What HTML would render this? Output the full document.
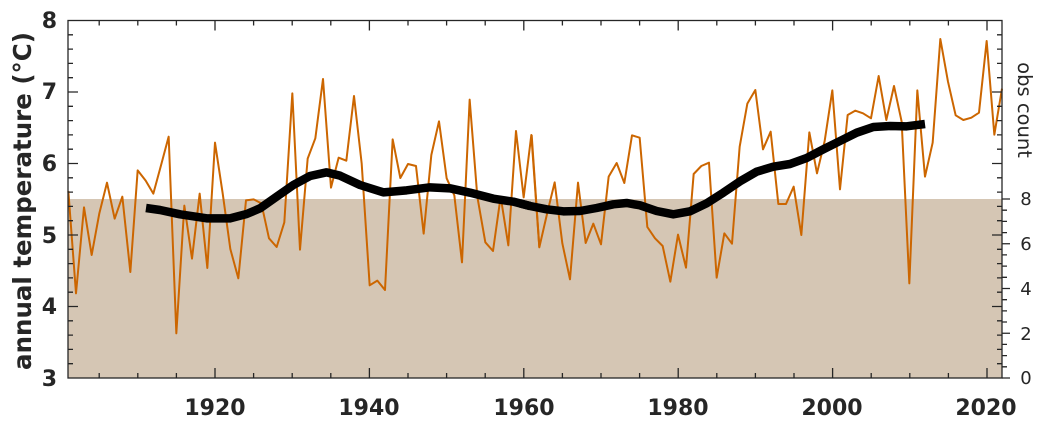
<!DOCTYPE html>
<html><head><meta charset="utf-8"><style>
html,body{margin:0;padding:0;background:#fff;width:1044px;height:424px;overflow:hidden}
svg{display:block}
text{font-family:"DejaVu Sans","Liberation Sans",sans-serif;fill:#262626}
</style></head><body>
<svg width="1044" height="424" viewBox="0 0 1044 424">
<rect x="68" y="199" width="934" height="179" fill="#d5c6b4"/>
<g fill="none" stroke="#cc6600" stroke-width="2" stroke-linejoin="round">
<g transform="translate(60,10) scale(0.33333)">
<polyline vector-effect="non-scaling-stroke" points="25,543 48,850 72,592 95,735 118,610 141,518 164,626 187,560 211,786 233,481 257,512 280,551 303,466 326,380 349,970 373,587 396,746 419,551 442,774 465,398 488,550 511,717 535,805 558,571 581,568 604,580 627,685 650,711 673,637 697,250 720,719 743,446 766,385 789,207 813,533 836,443 859,452 882,258 905,460 929,826 952,812 975,840 998,388 1021,504 1044,462 1068,468 1091,671 1114,435 1137,334 1160,505 1183,556 1206,757 1229,269 1252,560 1276,697 1299,723 1322,560 1345,706 1368,363 1391,562 1414,375 1438,712"/>
</g>
<g transform="translate(530,10) scale(0.33333)">
<polyline vector-effect="non-scaling-stroke" points="5,375 28,712 51,612 74,517 97,700 120,808 144,518 167,699 190,641 213,703 236,500 260,459 283,519 306,376 329,383 352,651 375,685 398,708 421,815 444,674 468,773 491,492 514,468 537,458 560,803 583,670 606,701 629,410 652,281 676,240 699,418 722,365 745,582 768,582 791,530 814,675 838,367 861,490 884,393 907,241 930,538 953,315 976,302 999,310 1023,325 1046,198 1069,330 1092,228 1115,335 1138,820 1162,241 1185,500 1208,398 1231,87 1254,215 1277,316 1300,330 1324,323 1347,308 1370,93 1393,374 1416,236"/>
</g>
</g>
<g fill="none" stroke="#000" stroke-width="8.5" stroke-linejoin="round">
<g transform="translate(60,10) scale(0.33333)">
<polyline vector-effect="non-scaling-stroke" points="258,594 300,600 360,613 440,625 510,625 560,612 600,595 650,560 700,525 750,498 800,487 840,497 900,525 970,547 1040,541 1110,532 1170,535 1230,548 1300,566 1360,575 1410,588"/>
</g>
<g transform="translate(530,10) scale(0.33333)">
<polyline vector-effect="non-scaling-stroke" points="-30,580 0,588 50,598 100,604 150,603 200,594 250,583 290,579 330,586 380,603 430,613 480,604 530,580 580,548 630,514 680,485 730,470 780,462 830,444 880,418 930,393 980,368 1030,351 1080,348 1130,349 1185,342"/>
</g>
</g>
<g stroke="#262626" stroke-width="1.3" fill="none">
<rect x="68" y="20.5" width="934" height="357.5"/>
<path d="M68 363.7h5M68 349.4h5M68 335.1h5M68 320.8h5M68 306.5h10M68 292.2h5M68 277.9h5M68 263.6h5M68 249.3h5M68 235h10M68 220.7h5M68 206.4h5M68 192.1h5M68 177.8h5M68 163.5h10M68 149.2h5M68 134.9h5M68 120.6h5M68 106.3h5M68 92h10M68 77.7h5M68 63.4h5M68 49.1h5M68 34.8h5"/>
<path d="M1002 363.7h-5M1002 349.4h-5M1002 335.1h-5M1002 320.8h-5M1002 306.5h-10M1002 292.2h-5M1002 277.9h-5M1002 263.6h-5M1002 249.3h-5M1002 235h-10M1002 220.7h-5M1002 206.4h-5M1002 192.1h-5M1002 177.8h-5M1002 163.5h-10M1002 149.2h-5M1002 134.9h-5M1002 120.6h-5M1002 106.3h-5M1002 92h-10M1002 77.7h-5M1002 63.4h-5M1002 49.1h-5M1002 34.8h-5"/>
<path d="M1002 378h8M1002 366.8h5M1002 355.6h5M1002 344.4h5M1002 333.25h8M1002 322h5M1002 310.9h5M1002 299.7h5M1002 288.5h8M1002 277.3h5M1002 266.1h5M1002 254.9h5M1002 243.75h8M1002 232.6h5M1002 221.4h5M1002 210.2h5M1002 199h8"/>
<path d="M99.2 378v-5M137.8 378v-5M176.4 378v-5M215 378v-10M253.6 378v-5M292.2 378v-5M330.8 378v-5M369.4 378v-10M408 378v-5M446.6 378v-5M485.2 378v-5M523.8 378v-10M562.4 378v-5M601 378v-5M639.6 378v-5M678.2 378v-10M716.8 378v-5M755.4 378v-5M794 378v-5M832.6 378v-10M871.2 378v-5M909.8 378v-5M948.4 378v-5M987 378v-10"/>
<path d="M99.2 20.5v5M137.8 20.5v5M176.4 20.5v5M215 20.5v10M253.6 20.5v5M292.2 20.5v5M330.8 20.5v5M369.4 20.5v10M408 20.5v5M446.6 20.5v5M485.2 20.5v5M523.8 20.5v10M562.4 20.5v5M601 20.5v5M639.6 20.5v5M678.2 20.5v10M716.8 20.5v5M755.4 20.5v5M794 20.5v5M832.6 20.5v10M871.2 20.5v5M909.8 20.5v5M948.4 20.5v5M987 20.5v10"/>
</g>
<g font-weight="bold" font-size="22" text-anchor="end">
<text x="57" y="386">3</text><text x="57" y="314">4</text><text x="57" y="243">5</text><text x="57" y="171">6</text><text x="57" y="99">7</text><text x="57" y="28">8</text>
</g>
<g font-weight="bold" font-size="22" text-anchor="middle">
<text x="215" y="415">1920</text><text x="369" y="415">1940</text><text x="524" y="415">1960</text><text x="678" y="415">1980</text><text x="832" y="415">2000</text><text x="986" y="415">2020</text>
</g>
<g font-size="18" text-anchor="middle">
<text x="1026" y="384">0</text><text x="1026" y="340">2</text><text x="1026" y="295">4</text><text x="1026" y="250">6</text><text x="1026" y="205">8</text>
</g>
<text transform="translate(31,201) rotate(-90)" font-weight="bold" font-size="24.5" text-anchor="middle">annual temperature (°C)</text>
<text transform="translate(1018,110) rotate(90)" font-size="19.5" text-anchor="middle">obs count</text>
</svg>
</body></html>
